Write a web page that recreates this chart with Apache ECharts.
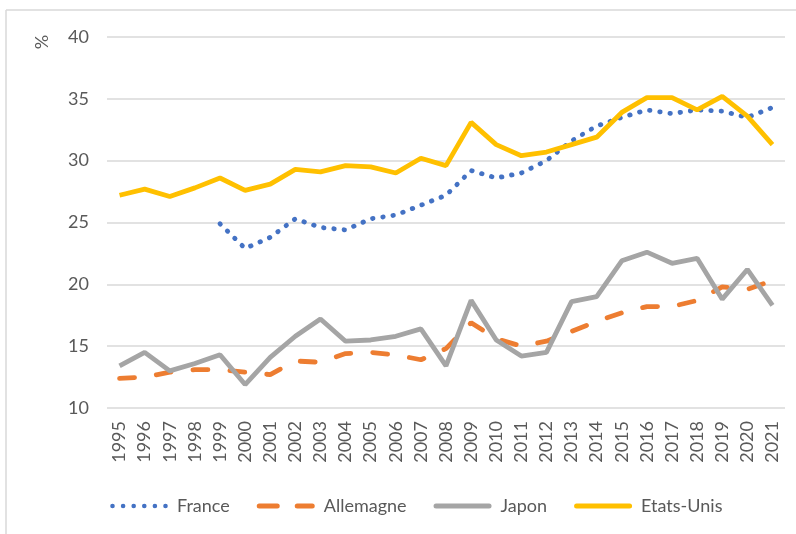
<!DOCTYPE html>
<html>
<head>
<meta charset="utf-8">
<script src="https://cdn.jsdelivr.net/npm/echarts@6/dist/echarts.min.js"></script>
<style>
html,body{margin:0;padding:0;background:#fff;}
#chart{width:796px;height:534px;}
</style>
</head>
<body>
<div id="chart"></div>
<script>
const years = ['1995','1996','1997','1998','1999','2000','2001','2002','2003','2004','2005','2006','2007','2008','2009','2010','2011','2012','2013','2014','2015','2016','2017','2018','2019','2020','2021'];
const yTicks = [10, 15, 20, 25, 30, 35, 40];
const france = [null, null, null, null, 24.9, 22.9, 23.8, 25.3, 24.6, 24.4, 25.3, 25.6, 26.4, 27.2, 29.2, 28.6, 29.0, 30.0, 31.6, 32.8, 33.5, 34.1, 33.8, 34.1, 34.0, 33.5, 34.3];
const allemagne = [12.4, 12.5, 12.9, 13.1, 13.1, 12.9, 12.7, 13.8, 13.7, 14.4, 14.5, 14.3, 13.9, 14.8, 16.9, 15.6, 15.0, 15.4, 16.2, 17.0, 17.7, 18.2, 18.2, 18.7, 19.8, 19.6, 20.3];
const japon = [13.4, 14.5, 13.0, 13.6, 14.3, 11.9, 14.1, 15.8, 17.2, 15.4, 15.5, 15.8, 16.4, 13.4, 18.7, 15.5, 14.2, 14.5, 18.6, 19.0, 21.9, 22.6, 21.7, 22.1, 18.8, 21.2, 18.3];
const etatsUnis = [27.2, 27.7, 27.1, 27.8, 28.6, 27.6, 28.1, 29.3, 29.1, 29.6, 29.5, 29.0, 30.2, 29.6, 33.1, 31.3, 30.4, 30.7, 31.3, 31.9, 33.9, 35.1, 35.1, 34.1, 35.2, 33.6, 31.3];
const seriesNames = ['France', 'Allemagne', 'Japon', 'Etats-Unis'];

const FONT = 'Lato';
const TXT = '#595959';

// legend icon shapes (58 x 5 box)
function dot(cx) { return 'M' + (cx - 2.3) + ',2.5a2.3,2.3 0 1,0 4.6,0a2.3,2.3 0 1,0 -4.6,0'; }
function pill(x0, x1) { return 'M' + (x0 + 2.5) + ',0H' + (x1 - 2.5) + 'A2.5,2.5 0 0,1 ' + (x1 - 2.5) + ',5H' + (x0 + 2.5) + 'A2.5,2.5 0 0,1 ' + (x0 + 2.5) + ',0Z'; }
let dotsPath = '';
for (let i = 0; i < 6; i++) dotsPath += dot(2.5 + i * 10.6);
const iconFrance = 'path://M0,0.2h0.01M58,4.8h0.01' + dotsPath;
const iconAll = 'path://' + pill(0, 23) + pill(38, 58);
const iconSolid = 'path://' + pill(0, 58);

const chart = echarts.init(document.getElementById('chart'), null, {renderer: 'canvas'});
chart.setOption({
  animation: false,
  backgroundColor: '#ffffff',
  textStyle: {fontFamily: FONT},
  grid: {left: 107, right: 11, top: 37, bottom: 126},
  graphic: [
    {type: 'line', shape: {x1: 6, y1: 10, x2: 796, y2: 10}, style: {stroke: '#d9d9d9', lineWidth: 1.5}},
    {type: 'line', shape: {x1: 6, y1: 10, x2: 6, y2: 534}, style: {stroke: '#d9d9d9', lineWidth: 1.5}},
    {type: 'text', x: 42, y: 42, rotation: Math.PI / 2,
      style: {text: '%', fill: TXT, font: '18px ' + FONT, align: 'center', verticalAlign: 'middle'}}
  ],
  legend: {
    data: [
      {name: seriesNames[0], icon: iconFrance},
      {name: seriesNames[1], icon: iconAll},
      {name: seriesNames[2], icon: iconSolid},
      {name: seriesNames[3], icon: iconSolid}
    ],
    left: 105,
    top: 492,
    itemWidth: 58,
    itemHeight: 5,
    itemGap: 27,
    textStyle: {color: TXT, fontSize: 18, fontFamily: FONT, padding: [0, 0, 0, 4]}
  },
  xAxis: {
    type: 'category',
    data: years,
    boundaryGap: true,
    axisLine: {show: false},
    axisTick: {show: false},
    axisLabel: {rotate: 90, color: TXT, fontSize: 18, fontFamily: FONT, margin: 13, interval: 0}
  },
  yAxis: {
    type: 'value',
    min: yTicks[0],
    max: yTicks[yTicks.length - 1],
    interval: 5,
    axisLine: {show: false},
    axisTick: {show: false},
    axisLabel: {color: TXT, fontSize: 18, fontFamily: FONT, margin: 18},
    splitLine: {lineStyle: {color: '#d9d9d9', width: 1.5}}
  },
  series: [
    {name: seriesNames[0], type: 'line', data: france, symbol: 'none', connectNulls: false,
      itemStyle: {color: '#4472C4'},
      lineStyle: {color: '#4472C4', width: 4.8, type: [0.5, 9.8], cap: 'round'}},
    {name: seriesNames[1], type: 'line', data: allemagne, symbol: 'none',
      itemStyle: {color: '#ED7D31'},
      lineStyle: {color: '#ED7D31', width: 4.8, type: [15, 22], cap: 'round'}},
    {name: seriesNames[2], type: 'line', data: japon, symbol: 'none',
      itemStyle: {color: '#A5A5A5'},
      lineStyle: {color: '#A5A5A5', width: 4.8}},
    {name: seriesNames[3], type: 'line', data: etatsUnis, symbol: 'none',
      itemStyle: {color: '#FFC000'},
      lineStyle: {color: '#FFC000', width: 4.8}}
  ]
});
</script>
</body>
</html>
